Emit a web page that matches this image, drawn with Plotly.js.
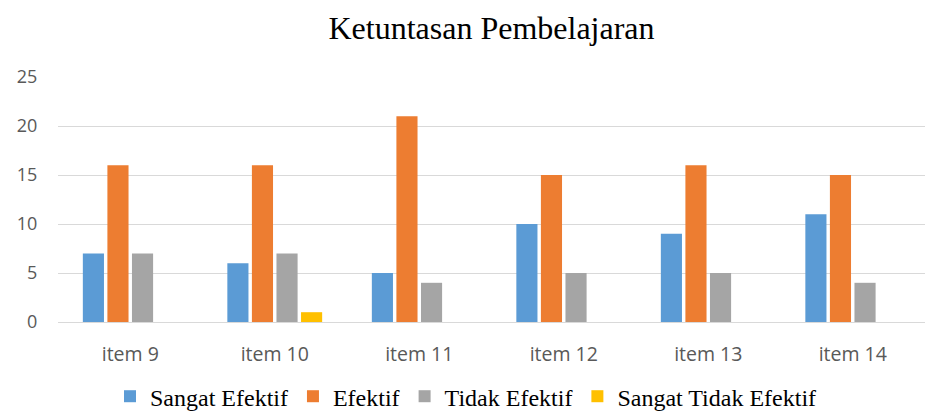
<!DOCTYPE html>
<html><head><meta charset="utf-8">
<script src="https://cdn.plot.ly/plotly-3.0.1.min.js"></script>
<style>html,body{margin:0;padding:0;background:#fff}#c{width:932px;height:414px}</style>
</head><body><div id="c"></div>
<script>
const categories = ["item 9","item 10","item 11","item 12","item 13","item 14"];
const sangatEfektif = [7, 6, 5, 10, 9, 11];
const efektif = [16, 16, 21, 15, 16, 15];
const tidakEfektif = [7, 7, 4, 5, 5, 4];
const sangatTidakEfektif = [0, 1, 0, 0, 0, 0];
const seriesNames = ["Sangat Efektif","Efektif","Tidak Efektif","Sangat Tidak Efektif"];
const colors = ["#5b9bd5","#ed7d31","#a5a5a5","#ffc000"];
const vals = [sangatEfektif, efektif, tidakEfektif, sangatTidakEfektif];
const data = vals.map((v,i)=>({type:'bar', x:categories, y:v, name:seriesNames[i], marker:{color:colors[i]}, hoverinfo:'none'}));
const layout = {
  width:932, height:414,
  margin:{l:58, r:7, t:77, b:92},
  paper_bgcolor:'#fff', plot_bgcolor:'#fff',
  title:{text:'Ketuntasan Pembelajaran', font:{family:'Liberation Serif', size:32, color:'#000'}, x:0.5, xanchor:'center', xref:'paper', y:0.932, yanchor:'middle'},
  barmode:'group', bargap:0.32, bargroupgap:0.14,
  xaxis:{automargin:false, tickfont:{family:'Open Sans, sans-serif', size:19.5, color:'#595959'}, showgrid:false, showline:true, linecolor:'#d9d9d9', linewidth:1, ticks:'outside', ticklen:15, tickcolor:'rgba(0,0,0,0)'},
  yaxis:{automargin:false, range:[0,25], dtick:5, tickfont:{family:'Open Sans, sans-serif', size:18, color:'#595959'}, gridcolor:'#d9d9d9', gridwidth:1, zeroline:false, showline:false, ticks:'outside', ticklen:16, tickcolor:'rgba(0,0,0,0)'},
  showlegend:true,
  legend:{orientation:'h', x:0.5, xanchor:'center', xref:'container', yref:'container', y:0.042, yanchor:'middle', font:{family:'Liberation Serif', size:24, color:'#000'}, itemwidth:30, tracegroupgap:0}
};
Plotly.newPlot('c', data, layout, {staticPlot:true, displayModeBar:false});
</script></body></html>
